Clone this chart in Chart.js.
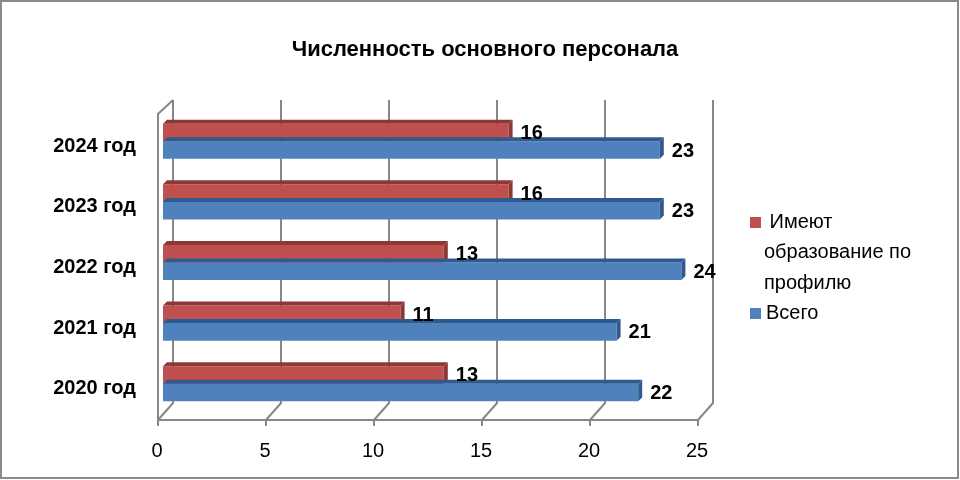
<!DOCTYPE html>
<html>
<head>
    <title>Численность основного персонала</title>
    <style>
        body { margin: 0; background: #fff; }
        .wrap { width: 960px; height: 480px; }
    </style>
</head>
<body>
    <div class="wrap">
        <canvas id="staffChart" width="960" height="480"></canvas>
    </div>

    <script src="https://cdn.jsdelivr.net/npm/chart.js"></script>
    <script>
        // data, top row first as in the picture
        var years = ['2024 год', '2023 год', '2022 год', '2021 год', '2020 год'];
        var withProfile = [16, 16, 13, 11, 13];
        var total = [23, 23, 24, 21, 22];
        var xTicks = [0, 5, 10, 15, 20, 25];
        var seriesNames = [' Имеют', 'образование по', 'профилю'];
        var totalName = 'Всего';

        var FONT = '"Liberation Sans", Arial, sans-serif';
        var RED = '#C0504D', RED_DARK = '#8C3836';
        var BLUE = '#4F81BD', BLUE_DARK = '#2F5A8F';

        // back wall, floor and gridlines drawn like the old excel 3d look
        var wallPlugin = {
            id: 'wall',
            beforeDatasetsDraw: function(chart) {
                var ctx = chart.ctx, x = chart.scales.x;
                var top = 100, floorBack = 403, floorFront = 420, dx = 15;
                ctx.save();
                ctx.strokeStyle = '#878787';
                ctx.lineWidth = 2;
                xTicks.forEach(function(v) {
                    var xf = x.getPixelForValue(v) - 5;
                    ctx.beginPath();
                    ctx.moveTo(xf + dx, top);
                    ctx.lineTo(xf + dx, floorBack);
                    ctx.lineTo(xf, floorFront);
                    ctx.lineTo(xf, floorFront + 6);
                    ctx.stroke();
                });
                var x0 = x.getPixelForValue(0) - 5, x1 = x.getPixelForValue(25) - 5;
                ctx.beginPath();
                ctx.moveTo(x0, floorFront);
                ctx.lineTo(x1, floorFront);
                ctx.stroke();
                ctx.beginPath();
                ctx.moveTo(x0 + dx, top);
                ctx.lineTo(x0, top + 14);
                ctx.lineTo(x0, floorFront);
                ctx.stroke();
                ctx.restore();
            },
            afterDatasetsDraw: function(chart) {
                var ctx = chart.ctx;
                ctx.save();
                // 3d faces first
                chart.data.datasets.forEach(function(ds, i) {
                    ctx.fillStyle = i === 0 ? RED_DARK : BLUE_DARK;
                    chart.getDatasetMeta(i).data.forEach(function(bar) {
                        var p = bar.getProps(['x', 'y', 'base', 'height'], true);
                        var t = p.y - p.height / 2, b = p.y + p.height / 2, d = 4;
                        ctx.beginPath();
                        ctx.moveTo(p.base, t);
                        ctx.lineTo(p.base + d, t - d);
                        ctx.lineTo(p.x + d, t - d);
                        ctx.lineTo(p.x, t);
                        ctx.closePath();
                        ctx.fill();
                        ctx.beginPath();
                        ctx.moveTo(p.x, t);
                        ctx.lineTo(p.x + d, t - d);
                        ctx.lineTo(p.x + d, b - d);
                        ctx.lineTo(p.x, b);
                        ctx.closePath();
                        ctx.fill();
                    });
                });
                // then the value labels on top
                ctx.fillStyle = '#000';
                ctx.font = 'bold 20px ' + FONT;
                ctx.textAlign = 'left';
                ctx.textBaseline = 'middle';
                chart.data.datasets.forEach(function(ds, i) {
                    chart.getDatasetMeta(i).data.forEach(function(bar, j) {
                        var p = bar.getProps(['x', 'y'], true);
                        ctx.fillText(ds.data[j], p.x + 12, p.y + 1);
                    });
                });
                ctx.restore();
            },
            afterDraw: function(chart) {
                var ctx = chart.ctx;
                ctx.save();
                // title
                ctx.fillStyle = '#000';
                ctx.font = 'bold 22px ' + FONT;
                ctx.textAlign = 'center';
                ctx.textBaseline = 'middle';
                ctx.fillText('Численность основного персонала', 485, 50);
                // legend
                ctx.font = '20px ' + FONT;
                ctx.textAlign = 'left';
                ctx.fillStyle = RED;
                ctx.fillRect(750, 217, 11, 11);
                ctx.fillStyle = '#000';
                seriesNames.forEach(function(s, k) {
                    ctx.fillText(s, 764, 222 + k * 30.5);
                });
                ctx.fillStyle = BLUE;
                ctx.fillRect(750, 308, 11, 11);
                ctx.fillStyle = '#000';
                ctx.fillText(totalName, 766, 313);
                // outer frame
                ctx.strokeStyle = '#8a8a8a';
                ctx.lineWidth = 2;
                ctx.strokeRect(1, 1, 957, 477);
                ctx.restore();
            }
        };

        var ctx = document.getElementById('staffChart').getContext('2d');
        var staffChart = new Chart(ctx, {
            type: 'bar',
            data: {
                labels: years,
                datasets: [{
                    label: 'Имеют образование по профилю',
                    data: withProfile,
                    backgroundColor: RED,
                    borderWidth: 0
                }, {
                    label: totalName,
                    data: total,
                    backgroundColor: BLUE,
                    borderWidth: 0
                }]
            },
            options: {
                indexAxis: 'y',
                responsive: false,
                animation: false,
                layout: { padding: { left: 43, top: 111, right: 257, bottom: 0 } },
                plugins: {
                    legend: { display: false },
                    tooltip: { enabled: false }
                },
                datasets: {
                    bar: { barPercentage: 1, categoryPercentage: 0.58 }
                },
                scales: {
                    x: {
                        min: 0,
                        max: 25,
                        afterBuildTicks: function(scale) {
                            scale.ticks = xTicks.map(function(v) { return { value: v }; });
                        },
                        afterFit: function(scale) { scale.height = 66; },
                        grid: { display: false, drawTicks: false },
                        border: { display: false },
                        ticks: {
                            padding: 25,
                            labelOffset: -6,
                            color: '#000',
                            font: { size: 20, family: FONT }
                        }
                    },
                    y: {
                        afterFit: function(scale) { scale.width = 120; },
                        grid: { display: false, drawTicks: false },
                        border: { display: false },
                        ticks: {
                            padding: 27,
                            labelOffset: 5,
                            color: '#000',
                            font: { size: 20, weight: 'bold', family: FONT }
                        }
                    }
                }
            },
            plugins: [wallPlugin]
        });
    </script>
</body>
</html>
